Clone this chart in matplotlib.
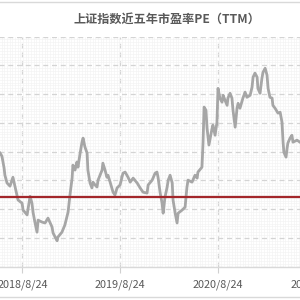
import numpy as np
import pandas as pd
import matplotlib
matplotlib.use("Agg")
import matplotlib.pyplot as plt
import matplotlib.dates as mdates
from matplotlib.ticker import MultipleLocator
from matplotlib.lines import Line2D

plt.rcParams['font.family'] = ['Noto Sans CJK SC', 'DejaVu Sans']

# data: days after 2018/8/24 and PE (TTM)
start_date = "2018-08-24"
day_offsets = [-83, -76, -68, -65, -57, -46, -35, -27, -20, -16, -1, 3, 18, 29, 36, 40, 47, 55, 59, 74,
               85, 96, 111, 115, 130, 133, 148, 159, 171, 178, 186, 189, 197, 204, 208, 216, 223, 227, 234, 242,
               245, 253, 260, 264, 272, 279, 283, 298, 301, 309, 316, 320, 328, 339, 346, 354, 365, 376, 384, 395,
               403, 414, 429, 440, 451, 466, 470, 485, 496, 503, 507, 515, 522, 526, 533, 541, 545, 552, 560, 563,
               571, 578, 582, 597, 608, 615, 619, 634, 645, 653, 656, 671, 675, 679, 686, 690, 697, 709, 712, 720,
               727, 731, 738, 746, 750, 757, 765, 768, 776, 783, 787, 795, 802, 806, 813, 824, 832, 839, 851, 858,
               862, 869, 877, 880, 888, 895, 899, 907, 914, 918, 925, 933, 936, 944, 955, 963, 970, 974, 977, 985,
               989, 992, 1000, 1007, 1011, 1026, 1037]
pe_values = [13.95, 13.84, 13.43, 13.18, 12.91, 12.80, 13.11, 12.77, 12.49, 12.32, 12.21, 11.97, 11.80, 12.45, 12.21, 11.90, 11.55, 11.20, 11.62, 11.55,
             11.52, 11.69, 11.38, 11.17, 10.90, 11.03, 11.20, 11.45, 11.90, 12.49, 13.08, 13.53, 13.36, 13.64, 13.46, 13.95, 14.33, 14.47, 14.16, 13.95,
             13.36, 12.91, 12.74, 12.94, 12.84, 12.77, 13.01, 13.36, 13.60, 13.36, 13.11, 13.18, 12.94, 12.59, 12.49, 12.74, 12.84, 13.25, 13.29, 13.11,
             12.94, 13.08, 12.91, 12.74, 12.59, 12.56, 12.84, 13.01, 13.25, 13.29, 13.11, 12.56, 12.21, 11.86, 12.42, 12.77, 13.01, 13.18, 12.91, 12.32,
             11.86, 11.52, 11.86, 11.97, 12.07, 12.77, 13.01, 12.94, 13.18, 13.08, 13.29, 13.46, 14.30, 15.55, 15.44, 14.82, 14.23, 14.82, 14.92, 14.57,
             15.02, 16.20, 15.86, 15.72, 15.96, 15.79, 15.61, 15.86, 16.03, 15.86, 15.44, 14.85, 15.51, 15.68, 15.51, 15.86, 16.07, 15.89, 15.96, 16.24,
             16.59, 16.73, 16.59, 16.20, 16.03, 16.55, 16.76, 16.90, 16.66, 16.20, 15.89, 15.86, 15.61, 15.51, 15.34, 15.37, 15.02, 14.33, 13.98, 13.81,
             14.12, 14.30, 14.47, 14.57, 14.33, 14.40, 14.33]
median_pe = 12.43
tick_dates = ["2018-08-24", "2019-08-24", "2020-08-24", "2021-08-24"]
tick_labels = ["2018/8/24", "2019/8/24", "2020/8/24", "2021/8/24"]
title = "上证指数近五年市盈率PE（TTM）"

dates = pd.Timestamp(start_date) + pd.to_timedelta(day_offsets, unit="D")

fig = plt.figure(figsize=(3, 3), dpi=100)
fig.patch.set_facecolor("white")
# axes wider than the figure: the original picture is a crop of a bigger chart
ax = fig.add_axes([-0.2, 0.111, 1.4, 0.767])

ax.plot(dates, pe_values, color="#A6A6A6", lw=2.0, zorder=3)
ax.axhline(median_pe, color="#A3272B", lw=1.6, zorder=4)

ax.set_xticks(mdates.date2num(pd.to_datetime(tick_dates)))
ax.set_xticklabels(tick_labels, fontsize=7.8, color="#595959")

# limits set after the ticks so they are not widened
base = mdates.date2num(pd.Timestamp(start_date))
ax.set_xlim(base - 307.4, base + 1261.3)
ax.set_ylim(10, 18)

ax.yaxis.set_major_locator(MultipleLocator(1))
ax.xaxis.set_minor_locator(MultipleLocator(10))
ax.yaxis.set_minor_locator(MultipleLocator(0.1))
ax.tick_params(axis="x", which="major", length=4, color="#D0D0D0", pad=5)
ax.tick_params(which="minor", length=0)
ax.tick_params(axis="y", left=False, labelleft=False)

ax.grid(which="minor", color="#F2F2F2", lw=0.4)
ax.grid(which="major", color="#D4D4D4", lw=0.9, ls=(0, (4, 3)))
ax.set_axisbelow(True)

for s in ["top", "left", "right"]:
    ax.spines[s].set_visible(False)
ax.spines["bottom"].set_color("#D9D9D9")
ax.spines["bottom"].set_linewidth(1.0)

fig.text(0.557, 0.937, title, ha="center", va="center", fontsize=8.7,
         fontweight="bold", color="#595959")

# outer frame lines of the chart container
fig.add_artist(Line2D([0, 1], [0.994, 0.994], color="#D9D9D9", lw=1.0))
fig.add_artist(Line2D([0, 1], [0.009, 0.009], color="#D9D9D9", lw=1.0))

fig.savefig("out.png", dpi=100)
